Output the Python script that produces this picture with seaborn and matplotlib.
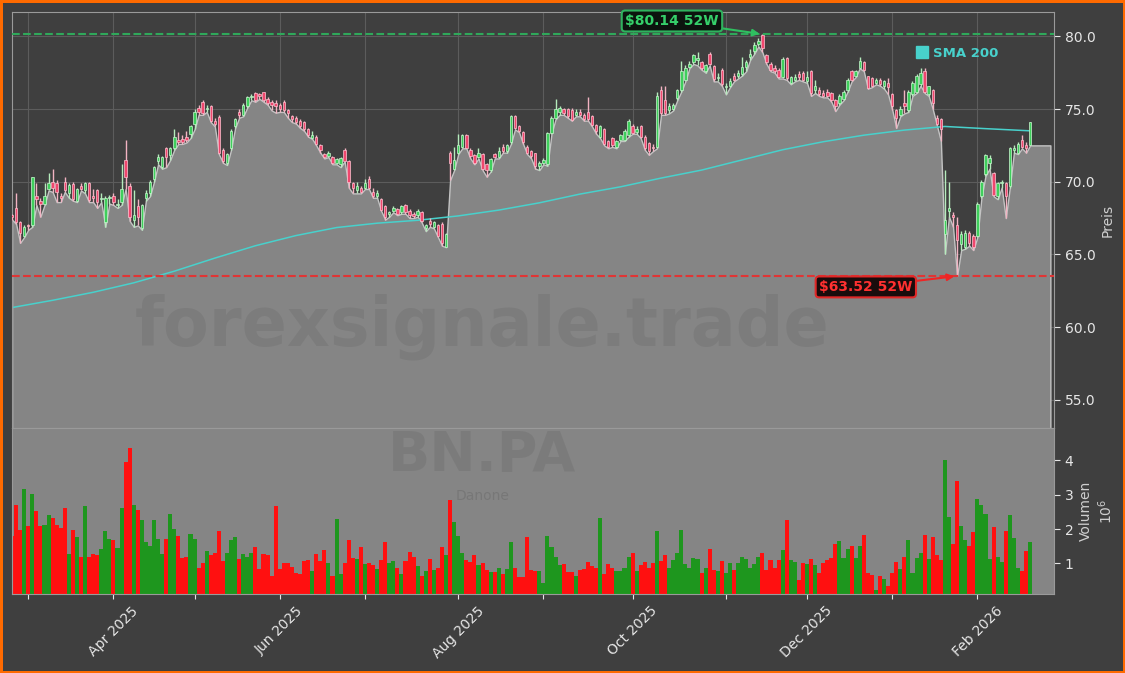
import numpy as np
import pandas as pd
import matplotlib
matplotlib.use("Agg")
import matplotlib.pyplot as plt
from matplotlib.lines import Line2D
import seaborn as sns

# --- data -------------------------------------------------------------------
ticker = "BN.PA"
company = "Danone"
holidays = ["2025-04-18", "2025-04-21", "2025-05-01",
            "2025-12-25", "2025-12-26", "2026-01-01"]
dates = pd.bdate_range("2025-02-25", "2026-02-19", freq="C", holidays=holidays)

open_ = [
    67.7, 68.2, 67.2, 66.3, 67.0, 67.0, 69.0, 68.7, 68.5, 69.5,
    70.0, 69.9, 69.0, 69.95, 69.25, 69.85, 68.65, 69.7, 69.4, 69.9,
    69.0, 69.4, 68.8, 67.25, 68.85, 69.0, 68.4, 68.6, 71.5, 69.7,
    67.4, 68.3, 66.8, 68.85, 69.2, 70.2, 71.4, 71.0, 72.3, 71.85,
    72.3, 72.9, 72.95, 73.1, 73.3, 74.0, 75.1, 75.5, 75.0, 75.2,
    74.2, 74.45, 72.2, 71.3, 72.3, 73.8, 74.8, 74.6, 75.2, 75.8,
    76.1, 76.0, 76.15, 75.7, 75.5, 75.4, 75.3, 75.5, 74.9, 74.5,
    74.4, 74.2, 74.1, 73.6, 73.0, 73.05, 72.5, 71.9, 71.8, 71.7,
    71.3, 71.2, 72.2, 71.4, 69.9, 69.4, 69.6, 69.6, 70.2, 69.3,
    69.0, 68.8, 68.3, 67.8, 68.0, 68.1, 67.9, 68.4, 68.0, 67.8,
    67.7, 67.9, 66.8, 67.3, 66.9, 67.0, 67.1, 65.5, 72.0, 70.9,
    72.0, 72.4, 73.2, 72.2, 71.85, 71.7, 71.9, 71.2, 70.8, 71.9,
    71.7, 72.4, 72.1, 72.7, 74.5, 73.8, 73.4, 72.4, 72.1, 71.95,
    71.1, 71.3, 71.2, 73.35, 74.4, 74.8, 75.0, 75.0, 74.96, 74.6,
    74.8, 74.6, 74.8, 74.5, 73.9, 73.1, 73.6, 72.8, 73.0, 72.4,
    72.9, 72.9, 73.2, 73.85, 73.4, 73.85, 73.1, 72.65, 72.4, 72.4,
    76.3, 75.65, 74.9, 75.0, 75.75, 76.3, 77.0, 77.9, 78.2, 78.4,
    78.2, 77.6, 78.75, 77.95, 77.1, 77.7, 76.5, 76.6, 77.3, 77.3,
    77.4, 77.9, 78.6, 79.0, 79.5, 80.1, 78.7, 78.1, 77.85, 77.7,
    77.2, 78.5, 76.8, 77.0, 77.4, 77.5, 76.9, 77.6, 76.3, 76.3,
    76.1, 76.2, 76.1, 75.6, 75.4, 75.7, 76.3, 77.6, 77.3, 77.85,
    78.2, 77.25, 77.1, 76.8, 77.0, 76.6, 76.8, 76.0, 74.9, 74.6,
    75.4, 74.9, 76.0, 76.2, 76.7, 77.6, 76.0, 76.3, 74.4, 74.3,
    66.4, 68.0, 67.7, 67.0, 65.7, 65.5, 66.5, 66.3, 66.3, 69.0,
    70.5, 71.3, 70.6, 69.0, 69.9, 69.9, 69.7, 72.2, 72.0, 72.9,
    72.55, 72.55,
]
high = [
    67.8, 69.2, 67.3, 67.0, 67.1, 70.3, 69.9, 68.9, 69.9, 70.6,
    70.9, 70.1, 69.2, 70.3, 69.9, 70.0, 69.6, 69.9, 70.0, 70.0,
    69.5, 69.5, 69.2, 69.0, 69.1, 69.2, 68.8, 71.2, 72.9, 69.9,
    69.4, 68.8, 68.5, 69.4, 70.1, 71.1, 71.9, 71.8, 72.4, 72.4,
    73.6, 73.4, 73.2, 73.5, 73.9, 75.0, 75.3, 75.6, 75.3, 75.3,
    74.4, 74.6, 72.3, 72.0, 73.6, 74.4, 75.0, 75.4, 75.9, 76.0,
    76.2, 76.1, 76.2, 75.8, 75.6, 75.65, 75.4, 75.6, 75.0, 74.6,
    74.5, 74.3, 74.2, 73.7, 73.5, 73.2, 72.6, 72.0, 72.1, 71.8,
    71.6, 71.7, 72.3, 71.5, 70.0, 70.0, 69.7, 70.2, 70.4, 69.6,
    69.4, 68.9, 68.4, 68.0, 68.3, 68.2, 68.4, 68.5, 68.1, 67.9,
    68.1, 68.0, 67.1, 67.5, 67.3, 67.1, 67.2, 66.5, 72.1, 72.4,
    73.3, 73.3, 73.3, 72.3, 71.9, 72.3, 72.0, 71.3, 71.6, 72.0,
    72.4, 72.6, 72.6, 74.6, 74.6, 73.9, 73.5, 72.5, 72.2, 72.0,
    71.4, 71.6, 73.4, 74.5, 75.7, 75.2, 75.1, 75.1, 75.1, 75.0,
    75.0, 74.7, 75.8, 74.6, 74.0, 73.9, 73.7, 72.9, 73.1, 72.9,
    73.3, 73.6, 74.3, 74.0, 73.8, 73.9, 73.2, 72.7, 72.6, 76.2,
    76.6, 76.6, 75.4, 75.4, 76.4, 78.3, 78.0, 78.3, 78.8, 78.9,
    78.3, 78.1, 78.9, 78.0, 77.5, 77.8, 76.8, 77.1, 77.5, 77.7,
    78.6, 78.4, 79.1, 79.6, 79.9, 80.14, 78.8, 78.2, 78.0, 77.8,
    78.6, 78.6, 77.3, 77.4, 77.6, 77.6, 77.6, 77.7, 77.0, 76.5,
    76.3, 76.4, 76.2, 75.7, 76.0, 76.3, 77.1, 77.7, 77.7, 78.6,
    78.3, 77.3, 77.2, 77.1, 77.1, 77.0, 77.15, 76.1, 75.0, 75.2,
    76.3, 76.3, 76.9, 77.4, 77.8, 77.8, 76.6, 76.4, 74.6, 74.4,
    70.8, 70.0, 67.9, 67.6, 66.6, 66.7, 66.6, 66.4, 68.6, 70.1,
    71.9, 71.85, 70.7, 70.0, 70.1, 70.0, 72.4, 72.5, 72.7, 73.2,
    72.7, 74.1,
]
low = [
    67.4, 67.1, 65.8, 66.2, 66.7, 66.9, 68.4, 67.6, 68.4, 69.4,
    69.3, 68.6, 68.6, 69.3, 68.9, 68.7, 68.6, 69.4, 69.2, 68.6,
    68.6, 68.2, 68.6, 66.9, 68.5, 68.4, 68.2, 68.4, 69.5, 67.3,
    66.9, 67.0, 66.7, 68.7, 69.0, 70.0, 71.2, 70.9, 71.0, 71.5,
    72.2, 72.6, 72.6, 72.7, 73.0, 73.6, 74.6, 74.6, 74.8, 74.1,
    73.8, 71.9, 71.3, 71.15, 72.2, 73.7, 74.4, 74.5, 75.1, 75.6,
    75.5, 75.7, 75.5, 75.3, 74.9, 74.75, 74.8, 74.8, 74.4, 74.1,
    74.0, 73.7, 73.5, 73.1, 72.95, 72.5, 72.0, 71.6, 71.7, 71.2,
    71.2, 71.0, 71.4, 69.6, 69.2, 69.2, 69.2, 69.5, 69.5, 68.9,
    68.9, 68.0, 67.4, 67.6, 67.9, 67.7, 67.8, 67.8, 67.5, 67.5,
    67.6, 67.2, 66.6, 66.9, 66.8, 66.2, 65.6, 65.5, 70.1, 70.8,
    71.9, 72.3, 72.3, 71.6, 71.2, 71.6, 70.8, 70.35, 70.7, 71.6,
    71.6, 72.0, 72.0, 72.6, 73.6, 73.4, 72.6, 71.9, 71.6, 70.9,
    70.8, 71.2, 71.1, 73.3, 74.3, 74.6, 74.6, 74.4, 74.2, 74.5,
    74.5, 74.2, 74.2, 73.8, 73.3, 73.0, 72.5, 72.3, 72.4, 72.3,
    72.8, 72.8, 73.1, 73.3, 73.3, 73.0, 72.2, 71.85, 72.1, 72.3,
    74.6, 74.6, 74.7, 74.9, 75.6, 76.2, 76.9, 77.8, 78.1, 78.0,
    77.7, 77.5, 78.0, 76.9, 76.9, 76.6, 76.0, 76.5, 76.9, 77.1,
    77.3, 77.6, 78.4, 78.8, 79.3, 78.9, 78.1, 77.6, 77.5, 77.1,
    77.1, 77.0, 76.7, 76.9, 77.0, 76.9, 76.8, 75.9, 76.1, 75.9,
    75.8, 75.8, 75.5, 74.85, 75.3, 75.6, 76.2, 76.9, 77.2, 77.8,
    77.6, 76.4, 76.5, 76.7, 76.6, 76.4, 76.0, 74.96, 73.7, 74.5,
    74.7, 74.8, 75.9, 76.1, 76.6, 76.1, 75.9, 75.0, 73.9, 72.8,
    65.05, 67.6, 66.9, 63.52, 65.3, 65.4, 65.6, 65.3, 66.2, 68.9,
    70.4, 70.9, 69.0, 68.8, 69.6, 67.5, 69.6, 72.0, 71.9, 72.3,
    72.0, 72.5,
]
close = [
    67.6, 67.2, 66.5, 66.9, 66.95, 70.3, 68.8, 68.5, 69.0, 69.9,
    69.6, 69.3, 68.9, 69.4, 69.8, 68.8, 69.5, 69.5, 69.9, 68.75,
    68.9, 68.6, 68.9, 68.85, 68.95, 68.6, 68.5, 69.5, 70.3, 67.6,
    67.7, 67.6, 68.4, 69.2, 70.0, 71.0, 71.7, 71.7, 71.7, 72.3,
    73.1, 72.75, 72.7, 72.85, 73.85, 74.8, 74.8, 74.7, 75.1, 74.2,
    74.0, 72.0, 71.4, 71.9, 73.5, 74.3, 74.6, 75.3, 75.8, 75.9,
    75.65, 75.9, 75.65, 75.4, 75.3, 75.2, 75.0, 74.9, 74.7, 74.3,
    74.1, 73.85, 73.6, 73.2, 73.2, 72.6, 72.2, 71.7, 72.0, 71.3,
    71.55, 71.6, 71.45, 70.0, 69.6, 69.7, 69.3, 69.9, 69.6, 69.0,
    69.2, 68.05, 67.6, 67.95, 68.2, 67.8, 68.3, 67.9, 67.7, 67.65,
    68.0, 67.3, 67.0, 67.1, 67.2, 66.3, 65.8, 66.4, 71.3, 71.5,
    72.5, 73.2, 72.35, 71.8, 71.3, 72.0, 70.9, 70.8, 71.55, 71.7,
    72.1, 72.1, 72.5, 74.5, 73.7, 73.5, 72.7, 72.0, 71.75, 71.05,
    71.3, 71.5, 73.35, 74.4, 75.0, 75.1, 74.75, 74.55, 74.27, 74.8,
    74.6, 74.3, 74.3, 73.9, 73.5, 73.8, 72.6, 72.4, 72.5, 72.8,
    73.2, 73.5, 74.2, 73.35, 73.6, 73.1, 72.3, 72.1, 72.3, 75.9,
    74.7, 74.75, 75.2, 75.25, 76.3, 77.6, 77.8, 78.1, 78.7, 78.5,
    77.85, 78.05, 78.1, 77.05, 77.2, 76.7, 76.6, 76.9, 77.0, 77.5,
    77.9, 78.2, 78.8, 79.4, 79.7, 79.2, 78.2, 77.7, 77.6, 77.2,
    78.45, 77.1, 77.2, 77.2, 77.2, 77.0, 77.2, 76.1, 76.6, 76.0,
    75.9, 75.9, 75.6, 75.2, 75.9, 76.15, 77.0, 77.0, 77.6, 78.3,
    77.7, 76.45, 76.6, 77.0, 76.7, 76.9, 76.5, 75.2, 74.4, 75.0,
    75.2, 76.2, 76.8, 77.3, 77.5, 76.2, 76.55, 75.4, 74.0, 73.6,
    67.4, 68.2, 67.55, 66.0, 66.4, 66.5, 65.8, 65.5, 68.5, 70.0,
    71.85, 71.6, 69.1, 69.9, 70.0, 69.0, 72.3, 72.3, 72.6, 72.4,
    72.3, 74.1,
]
# volume in millions of shares
volume_m = [
    1.81, 2.71, 1.96, 3.17, 2.10, 3.03, 2.51, 2.08, 2.13, 2.40,
    2.33, 2.13, 2.03, 2.62, 1.28, 1.96, 1.78, 1.20, 2.66, 1.18,
    1.28, 1.23, 1.41, 1.93, 1.70, 1.67, 1.44, 2.62, 3.95, 4.36,
    2.71, 2.54, 2.25, 1.61, 1.52, 2.25, 1.70, 1.28, 1.70, 2.44,
    1.99, 1.81, 1.15, 1.20, 1.86, 1.70, 0.87, 1.02, 1.35, 1.23,
    1.31, 1.93, 1.06, 1.31, 1.67, 1.78, 1.12, 1.26, 1.20, 1.31,
    1.47, 0.83, 1.26, 1.23, 0.63, 2.66, 0.83, 1.02, 1.02, 0.89,
    0.72, 0.68, 1.06, 1.09, 0.77, 1.26, 1.06, 1.38, 1.02, 0.62,
    2.28, 0.70, 1.02, 1.67, 1.15, 1.12, 1.47, 0.97, 1.02, 0.94,
    0.83, 1.09, 1.61, 1.02, 1.06, 0.88, 0.68, 1.06, 1.32, 1.20,
    0.91, 0.62, 0.77, 1.12, 0.80, 0.86, 1.47, 1.23, 2.83, 2.19,
    1.81, 1.29, 1.09, 1.03, 1.23, 0.94, 1.00, 0.80, 0.74, 0.74,
    0.88, 0.68, 0.83, 1.61, 0.88, 0.60, 0.60, 1.77, 0.80, 0.77,
    0.77, 0.43, 1.81, 1.47, 1.20, 0.94, 0.97, 0.74, 0.74, 0.62,
    0.80, 0.83, 1.03, 0.91, 0.88, 2.31, 0.68, 0.97, 0.86, 0.77,
    0.77, 0.86, 1.20, 1.29, 0.77, 0.94, 1.03, 0.88, 1.00, 1.93,
    1.06, 1.23, 0.86, 1.09, 1.29, 1.96, 0.97, 0.88, 1.15, 1.12,
    0.71, 0.88, 1.41, 0.80, 0.77, 1.06, 0.71, 1.00, 0.80, 1.00,
    1.20, 1.14, 0.88, 0.97, 1.20, 1.29, 0.80, 1.09, 0.88, 1.09,
    1.38, 2.25, 1.09, 1.03, 0.53, 1.00, 0.97, 1.12, 0.94, 0.71,
    1.00, 1.09, 1.17, 1.55, 1.64, 1.17, 1.41, 1.50, 1.17, 1.50,
    1.84, 0.71, 0.65, 0.22, 0.62, 0.56, 0.33, 0.71, 1.03, 0.83,
    1.20, 1.67, 0.71, 1.17, 1.29, 1.84, 1.12, 1.76, 1.23, 1.09,
    4.02, 2.34, 1.55, 3.41, 2.08, 1.67, 1.50, 1.90, 2.86, 2.69,
    2.43, 1.14, 2.05, 1.20, 1.03, 1.93, 2.40, 1.73, 0.86, 0.77,
    1.35, 1.61,
]

# SMA 200 (bar position -> value)
sma_pos = [0, 10, 20, 30, 40, 50, 60, 70, 80, 90, 100, 110, 120, 130,
           140, 150, 160, 170, 180, 190, 200, 210, 220, 230, 240, 251]
sma_200 = [61.35, 61.85, 62.4, 63.05, 63.85, 64.75, 65.6, 66.3, 66.85, 67.15,
           67.35, 67.65, 68.05, 68.55, 69.15, 69.65, 70.25, 70.8, 71.5, 72.2,
           72.75, 73.2, 73.55, 73.8, 73.65, 73.5]

high_52w = 80.14
low_52w = 63.52

# --- frame ------------------------------------------------------------------
df = pd.DataFrame({"date": dates, "open": open_, "high": high, "low": low,
                   "close": close, "volume": volume_m})
df["pos"] = np.arange(len(df))
df["dir"] = np.where(df["close"] >= df["open"], "up", "down")

bg = "#3f3f3f"
fill_c = "#858585"
turq = "#48d1cc"
green_line = "#2fa85a"
red_line = "#e03535"

sns.set_theme(style="dark", rc={
    "axes.facecolor": bg, "figure.facecolor": bg,
    "axes.edgecolor": "#9a9a9a", "axes.linewidth": 0.8,
    "text.color": "#e6e6e6", "axes.labelcolor": "#d0d0d0",
    "xtick.color": "#e6e6e6", "ytick.color": "#e6e6e6",
    "grid.color": "#5c5c5c",
})
plt.rcParams["font.family"] = ["DejaVu Sans"]

fig = plt.figure(figsize=(11.25, 6.73), dpi=100)
fig.patch.set_edgecolor("#ff6a00")
fig.patch.set_linewidth(3.5)

ax = fig.add_axes([0.01093, 0.3636, 0.9262, 0.6186])
axv = fig.add_axes([0.01093, 0.1174, 0.9262, 0.2462], sharex=ax)

# gray area under the lows, carried on past the last bar
x_fill = np.append(df["pos"].to_numpy(), df["pos"].iloc[-1] + 5)
y_fill = np.append(df["low"].to_numpy(), df["low"].iloc[-1])
ax.fill_between(x_fill, y_fill, 40, facecolor=fill_c, edgecolor="#c4c4c4",
                linewidth=1.0, zorder=1)

sns.lineplot(x=sma_pos, y=sma_200, ax=ax, color=turq, linewidth=1.1,
             zorder=2, legend=False)

# candles
styles = {
    "up": ("#3fcf5c", "#c9f5cf", "#b5ecbc"),
    "down": ("#f0476e", "#ffc2d0", "#f2b3c2"),
}
for d, (body_c, edge_c, wick_c) in styles.items():
    sub = df[df["dir"] == d]
    ax.vlines(sub["pos"], sub["low"], sub["high"], color=wick_c,
              linewidth=1.0, zorder=3)
    body = np.maximum((sub["close"] - sub["open"]).abs(), 0.06)
    ax.bar(sub["pos"], body, bottom=np.minimum(sub["open"], sub["close"]),
           width=0.6, color=body_c, edgecolor=edge_c, linewidth=0.5, zorder=4)

ax.axhline(high_52w, color=green_line, linestyle="--", linewidth=1.5, zorder=5)
ax.axhline(low_52w, color=red_line, linestyle="--", linewidth=1.5, zorder=5)

pos_hi = df.loc[df["high"].idxmax(), "pos"]
pos_lo = df.loc[df["low"].idxmin(), "pos"]
ax.annotate(r"\$80.14 52W", xy=(pos_hi, high_52w), xytext=(162.7, 81.05),
            color="#35d06a", fontsize=10, fontweight="bold",
            ha="center", va="center", zorder=7,
            bbox=dict(boxstyle="round,pad=0.25", fc="#0c140e", ec="#2fb25e", lw=1.5),
            arrowprops=dict(arrowstyle="-|>", color="#2fc060", lw=1.5,
                            shrinkA=0, shrinkB=2))
ax.annotate(r"\$63.52 52W", xy=(pos_lo, low_52w), xytext=(210.5, 62.77),
            color="#ff3030", fontsize=10, fontweight="bold",
            ha="center", va="center", zorder=7,
            bbox=dict(boxstyle="round,pad=0.25", fc="#1a0c0c", ec="#e02828", lw=1.5),
            arrowprops=dict(arrowstyle="-|>", color="#f02525", lw=1.5,
                            shrinkA=0, shrinkB=2))

ax.text(0.4285, 0.514, "forexsignale.trade", transform=fig.transFigure,
        ha="center", va="center", fontsize=48, fontweight="bold",
        color=(0, 0, 0, 0.065), zorder=1.5)

ax.legend(handles=[Line2D([], [], marker="s", linestyle="none", color=turq,
                          markersize=8)],
          labels=["SMA 200"], loc="center left", bbox_to_anchor=(0.857, 0.9),
          frameon=False, labelcolor=turq, handlelength=0.8, handletextpad=0.4,
          prop={"weight": "bold", "size": 9.5})

# volume
sns.barplot(data=df, x="pos", y="volume", hue="dir",
            palette={"up": "#1e961e", "down": "#ff1010"},
            native_scale=True, width=1.0, dodge=False, errorbar=None,
            saturation=1, linewidth=0, legend=False, ax=axv)
axv.set_facecolor(fill_c)
axv.text(0.4285, 0.322, ticker, transform=fig.transFigure, ha="center",
         va="center", fontsize=40, fontweight="bold", color=(0, 0, 0, 0.07),
         zorder=0.5)
axv.text(0.429, 0.263, company, transform=fig.transFigure, ha="center",
         va="center", fontsize=10, color=(0, 0, 0, 0.1), zorder=0.5)

# --- axes -------------------------------------------------------------------
month_change = df["date"].dt.month.diff().fillna(0).ne(0)
tick_pos = df.loc[month_change, "pos"].to_list()
tick_lab = [d.strftime("%b %Y") if d.month % 2 == 0 else ""
            for d in df.loc[month_change, "date"]]

ax.set_xlim(0.06, 256.96)
ax.set_ylim(53.05, 81.67)
axv.set_ylim(0.11, 4.93)

ax.set_xticks(tick_pos)
ax.grid(True, color="#5c5c5c", linewidth=0.8, zorder=0)
ax.set_axisbelow(True)
ax.tick_params(axis="x", length=0, labelbottom=False)
ax.yaxis.tick_right()
ax.yaxis.set_label_position("right")
ax.set_yticks([55, 60, 65, 70, 75, 80])
ax.set_yticklabels([f"{v:.1f}" for v in [55, 60, 65, 70, 75, 80]])
ax.tick_params(axis="y", right=True, left=False, length=4, width=0.8,
               labelsize=10, colors="#e6e6e6")
ax.set_ylabel("Preis", fontsize=10, color="#cfcfcf")
ax.set_xlabel("")

axv.set_xticks(tick_pos)
axv.set_xticklabels(tick_lab, rotation=45, ha="center")
axv.tick_params(axis="x", bottom=True, length=3.5, width=0.8, labelsize=10,
                colors="#e6e6e6")
axv.yaxis.tick_right()
axv.yaxis.set_label_position("right")
axv.set_yticks([1, 2, 3, 4])
axv.set_yticklabels(["1", "2", "3", "4"])
axv.tick_params(axis="y", right=True, left=False, length=4, width=0.8,
                labelsize=10, colors="#e6e6e6")
axv.set_ylabel("Volumen\n$10^6$", fontsize=10, color="#cfcfcf")
axv.set_xlabel("")
axv.grid(False)
axv.set_xlim(0.06, 256.96)

for a in (ax, axv):
    for s in a.spines.values():
        s.set_color("#9a9a9a")
        s.set_linewidth(0.8)

fig.savefig("out.png", dpi=100, facecolor=fig.get_facecolor(),
            edgecolor=fig.patch.get_edgecolor())
